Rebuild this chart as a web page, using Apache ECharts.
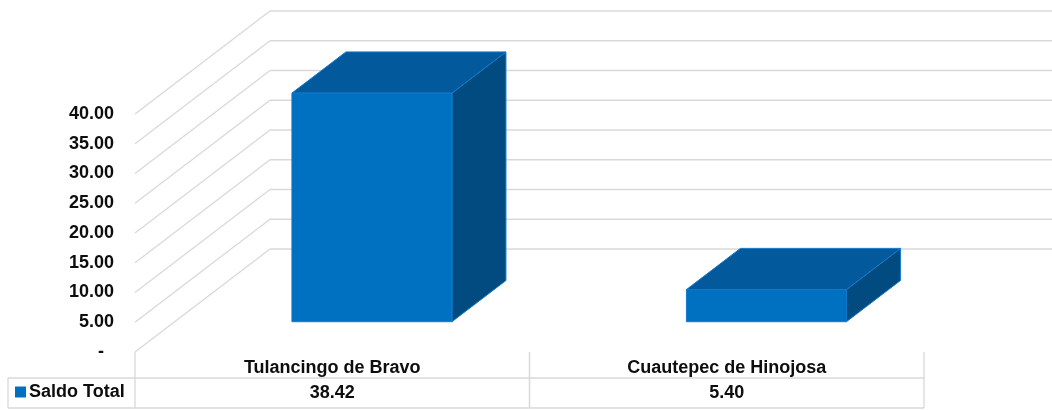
<!DOCTYPE html>
<html>
<head>
<meta charset="utf-8">
<script src="https://cdn.jsdelivr.net/npm/echarts@6/dist/echarts.min.js"></script>
<style>
html,body{margin:0;padding:0;background:#ffffff;}
#chart{width:1052px;height:410px;}
</style>
</head>
<body>
<div id="chart"></div>
<script>
// ---- data ----
const categories = ['Tulancingo de Bravo', 'Cuautepec de Hinojosa'];
const saldoTotal = [38.42, 5.40];
const seriesName = 'Saldo Total';
const yTickValues = [0, 5, 10, 15, 20, 25, 30, 35, 40];

// ---- styling / layout ----
const FONT = '"Liberation Sans", Arial, sans-serif';
const FONT_SIZE = 18;
const TEXT_COLOR = '#0d0d0d';
const GRID_COLOR = '#d9d9d9';
const GRID_WIDTH = 1.3;
const DEPTH = { dx: 135, dy: -103 };
const BAR = { widthRatio: 0.4056, depthStart: 0.294, depthEnd: 0.694 };
const COLORS = { front: '#0070c0', top: '#02599b', side: '#024b81', edge: '#1479cc' };
const TABLE = { headerH: 26, rowH: 30, legendLeft: 8 };

function fmtTick(v) { return v === 0 ? '-  ' : v.toFixed(2); }
function fmtValue(v) { return v.toFixed(2); }

function gl(x1, y1, x2, y2) {
  return { type: 'line', shape: { x1, y1, x2, y2 }, style: { stroke: GRID_COLOR, lineWidth: GRID_WIDTH } };
}

function renderGridLine(params, api) {
  const cs = params.coordSys;
  const y = api.coord([0, api.value(1)])[1];
  const x0 = cs.x;
  const xb = x0 + DEPTH.dx, yb = y + DEPTH.dy;
  return {
    type: 'group',
    children: [
      gl(x0, y, xb, yb),
      gl(xb, yb, api.getWidth(), yb)
    ]
  };
}

function renderBar(params, api) {
  const idx = api.value(0);
  const base = api.coord([idx, 0]);
  const top = api.coord([idx, api.value(1)]);
  const band = api.size([1, 0])[0];
  const w = band * BAR.widthRatio;
  const ox = DEPTH.dx * BAR.depthStart, oy = DEPTH.dy * BAR.depthStart;
  const d = BAR.depthEnd - BAR.depthStart;
  const bx = DEPTH.dx * d, by = DEPTH.dy * d;
  const x0 = base[0] - w / 2 + ox, x1 = x0 + w;
  const yb = base[1] + oy, yt = top[1] + oy;
  const edge = { stroke: COLORS.edge, lineWidth: 1, lineJoin: 'round' };
  return {
    type: 'group',
    children: [
      { type: 'polygon', shape: { points: [[x1, yt], [x1 + bx, yt + by], [x1 + bx, yb + by], [x1, yb]] },
        style: Object.assign({ fill: COLORS.side }, edge) },
      { type: 'polygon', shape: { points: [[x0, yt], [x1, yt], [x1 + bx, yt + by], [x0 + bx, yt + by]] },
        style: Object.assign({ fill: COLORS.top }, edge) },
      { type: 'rect', shape: { x: x0, y: yt, width: w, height: yb - yt },
        style: Object.assign({ fill: COLORS.front }, edge) }
    ]
  };
}

function txt(text, x, y) {
  return { type: 'text', x, y, style: { text, fill: TEXT_COLOR, fontFamily: FONT, fontWeight: 'bold', fontSize: FONT_SIZE, align: 'center', verticalAlign: 'middle' } };
}

function renderTable(params, api) {
  const cs = params.coordSys;
  const i = params.dataIndex;
  const cx = api.coord([api.value(0), 0])[0];
  const band = api.size([1, 0])[0];
  const left = cx - band / 2, right = cx + band / 2;
  const top = cs.y + cs.height;
  const mid = top + TABLE.headerH;
  const bottom = mid + TABLE.rowH;
  const children = [
    gl(left, top, left, bottom),
    gl(right, top, right, bottom),
    gl(left, mid, right, mid),
    gl(left, bottom, right, bottom),
    txt(categories[i], cx, (top + mid) / 2 + 3),
    txt(fmtValue(api.value(1)), cx, (mid + bottom) / 2)
  ];
  if (i === 0) {
    children.push(gl(TABLE.legendLeft, mid, left, mid));
    children.push(gl(TABLE.legendLeft, bottom, left, bottom));
    children.push(gl(TABLE.legendLeft, mid, TABLE.legendLeft, bottom));
  }
  return { type: 'group', children };
}

const chart = echarts.init(document.getElementById('chart'), null, { renderer: 'canvas' });
chart.setOption({
  animation: false,
  backgroundColor: '#ffffff',
  grid: { left: 135, right: 128, top: 114, bottom: 58, containLabel: false },
  legend: {
    data: [seriesName],
    left: 15, top: 383,
    padding: 0,
    icon: 'rect', itemWidth: 11, itemHeight: 11,
    selectedMode: false,
    textStyle: { fontFamily: FONT, fontWeight: 'bold', fontSize: FONT_SIZE, color: TEXT_COLOR, padding: [0, 0, 0, -2] }
  },
  xAxis: {
    type: 'category', data: categories,
    axisLine: { show: false }, axisTick: { show: false }, axisLabel: { show: false }, splitLine: { show: false }
  },
  yAxis: {
    type: 'value', min: 0, max: 40, interval: 5,
    axisLine: { show: false }, axisTick: { show: false }, splitLine: { show: false },
    axisLabel: { formatter: fmtTick, margin: 21, fontFamily: FONT, fontWeight: 'bold', fontSize: FONT_SIZE, color: TEXT_COLOR }
  },
  series: [
    { type: 'custom', name: 'grid', z: 1, silent: true, clip: false,
      renderItem: renderGridLine,
      data: yTickValues.map(v => [0, v]) },
    { type: 'custom', name: 'table', z: 2, silent: true, clip: false,
      renderItem: renderTable,
      data: categories.map((c, i) => [i, saldoTotal[i]]) },
    { type: 'custom', name: seriesName, z: 3, clip: false,
      itemStyle: { color: COLORS.front },
      renderItem: renderBar,
      data: categories.map((c, i) => [i, saldoTotal[i]]) }
  ]
});
</script>
</body>
</html>
